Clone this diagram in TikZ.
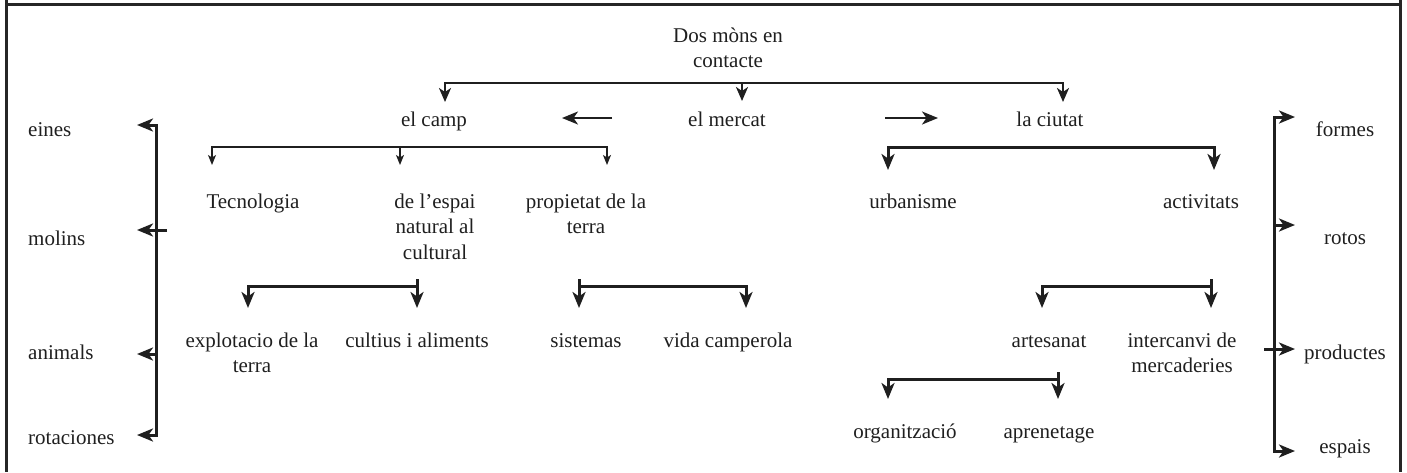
\documentclass[tikz,border=0pt]{standalone}
\usepackage{fontspec}
\setmainfont{Liberation Serif}
\usetikzlibrary{arrows.meta}
\newcommand{\mlines}[1]{\begin{tabular}[t]{@{}c@{}}#1\end{tabular}}
\begin{document}
\begin{tikzpicture}[x=1pt,y=-1pt,
  lbl/.style={anchor=base, inner sep=0pt, font=\fontsize{21}{25.5}\selectfont, text=black!88},
  lft/.style={lbl, anchor=base west},
  frame/.style={line width=3pt, draw=black!85},
  bus/.style={line width=3pt, line join=miter, draw=black!88},
  midbus/.style={line width=2.2pt, draw=black!88},
  thinbus/.style={line width=1.4pt, draw=black!88},
  hd/.style={-{Stealth[length=16pt,width=13pt,inset=4.5pt]}},
  mhd/.style={-{Stealth[length=14pt,width=12pt,inset=4pt]}},
  shd/.style={-{Stealth[length=10pt,width=8pt,inset=2.5pt]}}
]
\useasboundingbox (0,0) rectangle (1407,472);
% frame
\draw[frame] (6,0) -- (6,472);
\draw[frame] (1400,0) -- (1400,472);
\draw[frame] (6,4) -- (1400,4);

% nodes
\node[lbl] (title) at (728,42) {\mlines{Dos mòns en\\contacte}};
\node[lbl] (camp) at (434,126) {el camp};
\node[lbl] (mercat) at (727,126) {el mercat};
\node[lbl] (ciutat) at (1050,126) {la ciutat};

\node[lbl] (tec) at (253,208) {Tecnologia};
\node[lbl] (espai) at (435,208) {\mlines{de l’espai\\natural al\\cultural}};
\node[lbl] (prop) at (586,208) {\mlines{propietat de la\\terra}};
\node[lbl] (urb) at (913,208) {urbanisme};
\node[lbl] (act) at (1201,208) {activitats};

\node[lbl] (expl) at (252,347) {\mlines{explotacio de la\\terra}};
\node[lbl] (cult) at (417,347) {cultius i aliments};
\node[lbl] (sist) at (586,347) {sistemas};
\node[lbl] (vida) at (728,347) {vida camperola};
\node[lbl] (arte) at (1049,347) {artesanat};
\node[lbl] (inter) at (1182,347) {\mlines{intercanvi de\\mercaderies}};
\node[lbl] (org) at (905,438) {organització};
\node[lbl] (apre) at (1049,438) {aprenetage};

\node[lft] (eines) at (28,136) {eines};
\node[lft] (molins) at (28,245) {molins};
\node[lft] (anim) at (28,359) {animals};
\node[lft] (rotac) at (28,444) {rotaciones};

\node[lbl] (formes) at (1345,136) {formes};
\node[lbl] (rotos) at (1345,244) {rotos};
\node[lbl] (prod) at (1345,359) {productes};
\node[lbl] (espais) at (1345,453) {espais};

% coordinates for connectors
\coordinate (tbL) at (445,83);
\coordinate (tbR) at (1063,83);
\coordinate (tbM) at (742,83);
\coordinate (mL) at (612,118);
\coordinate (mR) at (885,118);
\coordinate (cbL) at (212,147);
\coordinate (cbM) at (400,147);
\coordinate (cbR) at (607,147);
\coordinate (ubL) at (888,147);
\coordinate (ubR) at (1214,147);
\coordinate (ebL) at (248,286);
\coordinate (ebR) at (417,286);
\coordinate (pbL) at (579,286);
\coordinate (pbR) at (746,286);
\coordinate (abL) at (1042,286);
\coordinate (abR) at (1211,286);
\coordinate (rbL) at (888,379);
\coordinate (rbR) at (1058,379);
\coordinate (lbx) at (156,0);
\coordinate (rbx) at (1274,0);

% title bus
\draw[midbus, mhd] (tbM) -- (tbM |- 0,101);
\draw[midbus, mhd] (tbM) -- (tbR) -- (tbR |- 0,102);
\draw[midbus, mhd] (tbR) -- (tbL) -- (tbL |- 0,102);
% mercat arrows
\draw[midbus, hd] (mL) -- ([xshift=-50pt]mL);
\draw[midbus, hd] (mR) -- ([xshift=53pt]mR);
% camp bus
\draw[thinbus, shd] (cbR) -- (cbL) -- (cbL |- 0,165);
\draw[thinbus, shd] (cbL) -- (cbR) -- (cbR |- 0,165);
\draw[thinbus, shd] (cbM) -- (cbM |- 0,165);
% ciutat bus
\draw[bus, hd] (ubR) -- (ubL) -- (ubL |- 0,170);
\draw[bus, hd] (ubL) -- (ubR) -- (ubR |- 0,170);
% espai bus
\draw[bus, hd] (ebR |- 0,279) -- (ebR |- 0,308);
\draw[bus, hd] (ebR) -- (ebL) -- (ebL |- 0,308);
% propietat bus
\draw[bus, hd] (pbL |- 0,279) -- (pbL |- 0,308);
\draw[bus, hd] (pbL) -- (pbR) -- (pbR |- 0,308);
% activitats bus
\draw[bus, hd] (abR |- 0,279) -- (abR |- 0,308);
\draw[bus, hd] (abR) -- (abL) -- (abL |- 0,308);
% artesanat bus
\draw[bus, hd] (rbR |- 0,372) -- (rbR |- 0,399);
\draw[bus, hd] (rbR) -- (rbL) -- (rbL |- 0,399);

% left bracket
\draw[bus, hd] (lbx |- 0,280) -- (lbx |- 0,125) -- (137,125);
\draw[bus, hd] (lbx |- 0,280) -- (lbx |- 0,435) -- (137,435);
\draw[bus, hd] (167,230) -- (137,230);
\draw[bus, hd] (lbx |- 0,354) -- (137,354);
% right bracket
\draw[bus, hd] (rbx |- 0,280) -- (rbx |- 0,117) -- (1295,117);
\draw[bus, hd] (rbx |- 0,280) -- (rbx |- 0,451) -- (1295,451);
\draw[bus, hd] (rbx |- 0,225) -- (1295,225);
\draw[bus, hd] (1264,349) -- (1295,349);
\end{tikzpicture}
\end{document}
